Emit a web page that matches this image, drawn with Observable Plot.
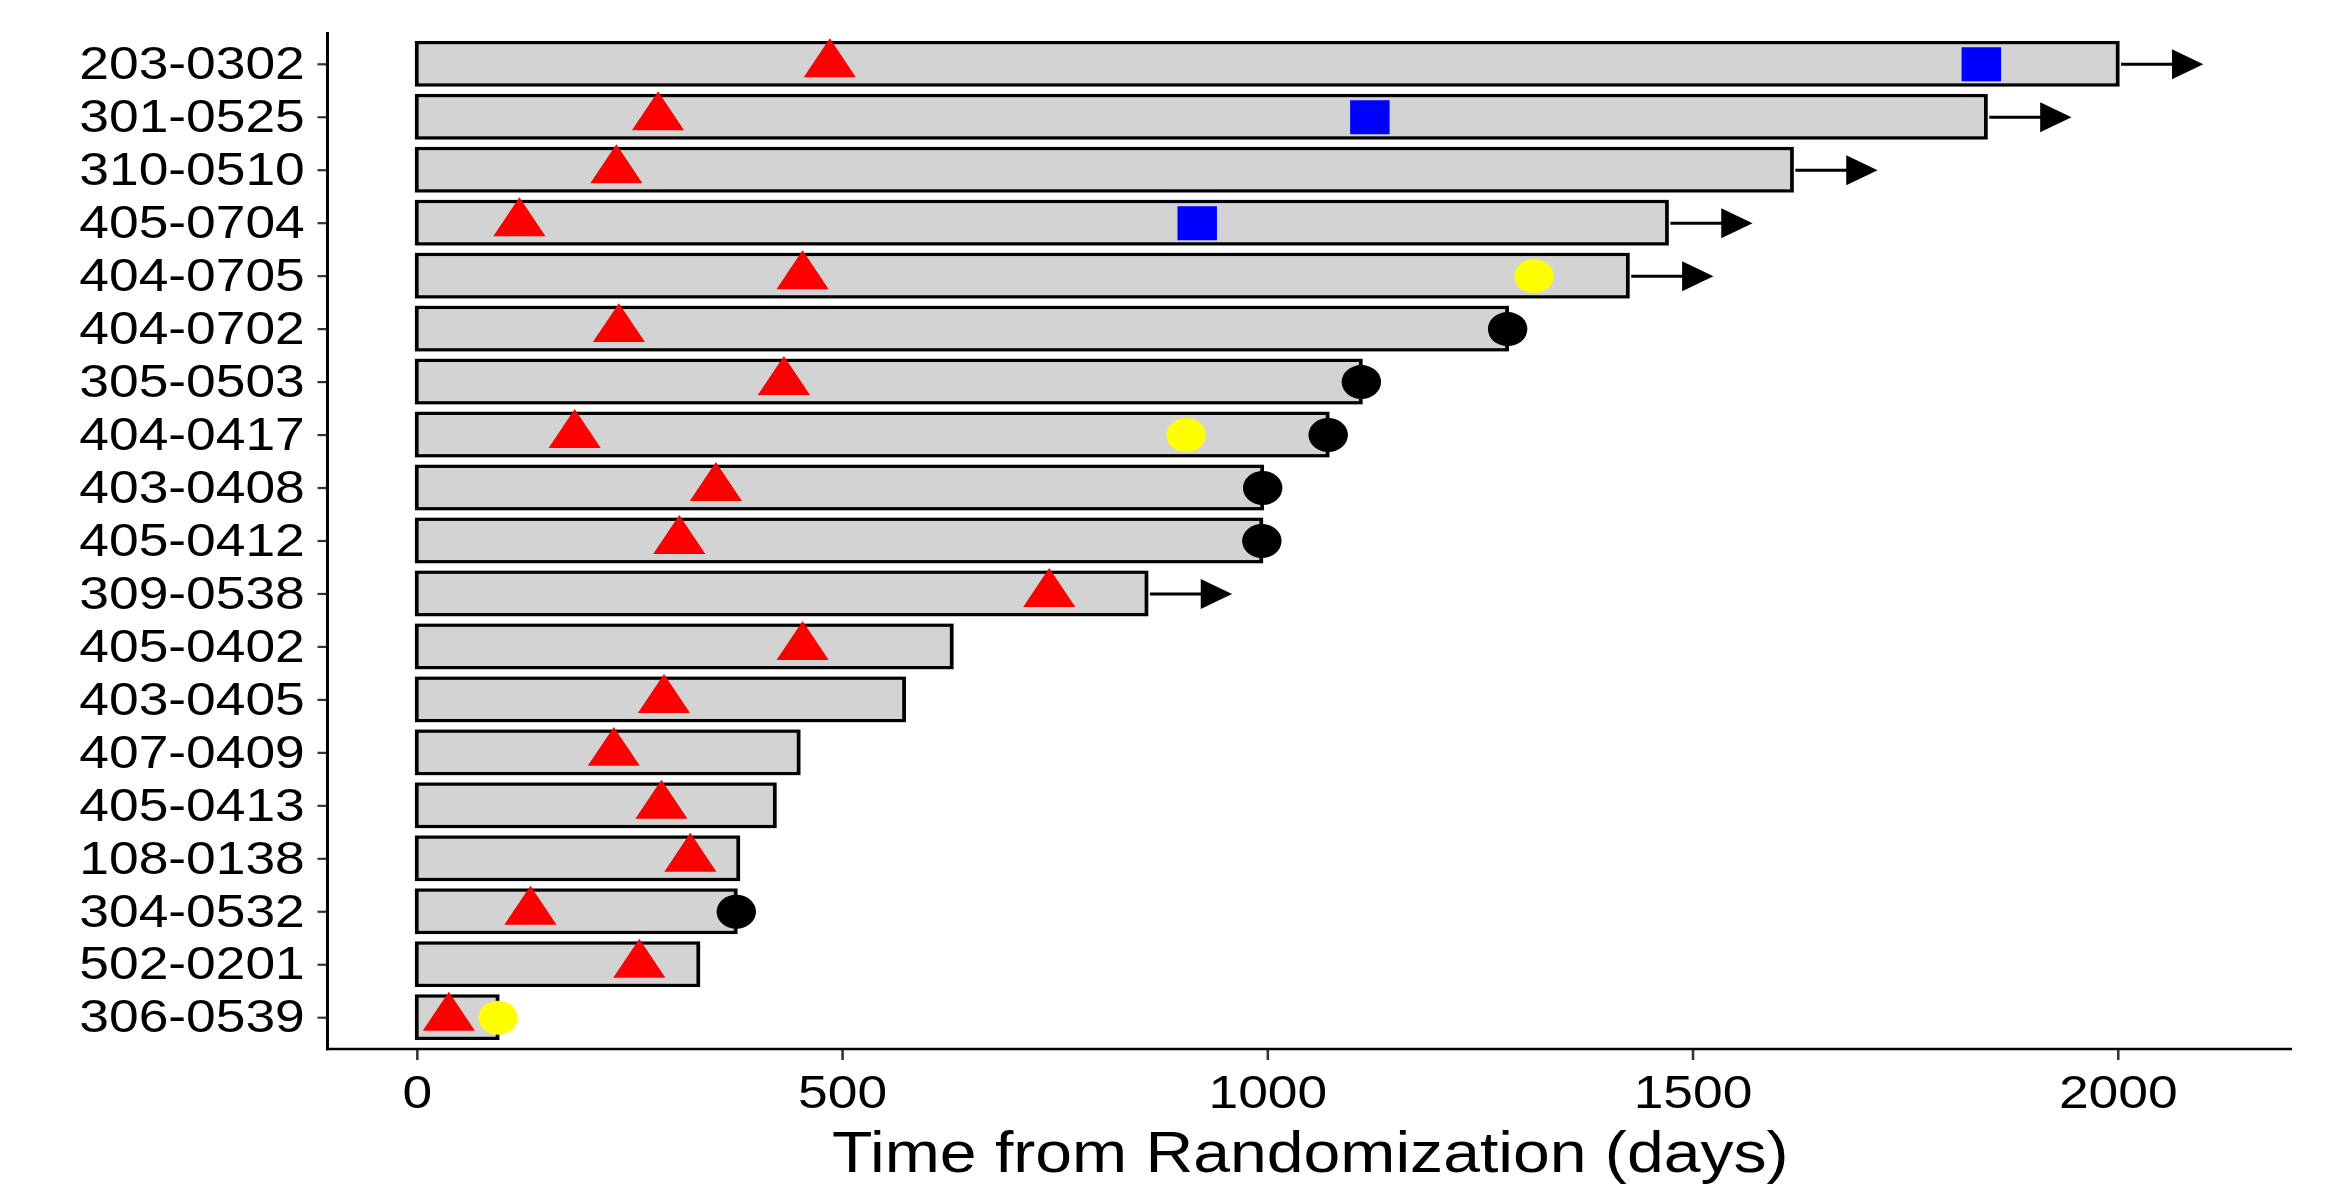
<!DOCTYPE html>
<html>
<head>
<meta charset="utf-8">
<script src="https://cdn.jsdelivr.net/npm/d3@7"></script>
<script src="https://cdn.jsdelivr.net/npm/@observablehq/plot@0.6"></script>
<style>
html, body { margin: 0; padding: 0; background: #fff; overflow: hidden; }
#chart svg { display: block; transform: scaleX(1.16); transform-origin: 0 0; }
</style>
</head>
<body>
<div id="chart"></div>
<script>
// ---- data ----
const ids = ["203-0302","301-0525","310-0510","405-0704","404-0705","404-0702","305-0503","404-0417","403-0408","405-0412","309-0538","405-0402","403-0405","407-0409","405-0413","108-0138","304-0532","502-0201","306-0539"];
const ends = [2000, 1845, 1617, 1470, 1424, 1282, 1110, 1071, 994, 993, 858, 629, 573, 449, 421, 378, 375, 331, 95];
const triangleDays = [485, 283, 234, 120, 453, 237, 431, 185, 351, 308, 743, 453, 290, 231, 287, 321, 133, 261, 37];
const blueIds = ["203-0302", "301-0525", "405-0704"];
const blueDays = [1839, 1120, 917];
const yellowIds = ["404-0705", "404-0417", "306-0539"];
const yellowDays = [1313, 904, 95];
const blackIds = ["404-0702", "305-0503", "404-0417", "403-0408", "405-0412", "304-0532"];
const blackDays = [1282, 1110, 1071, 994, 993, 375];
const arrowIds = ["203-0302", "301-0525", "310-0510", "405-0704", "404-0705", "309-0538"];
const arrowLength = 100;
const xTicks = [0, 500, 1000, 1500, 2000];
const xLabel = "Time from Randomization (days)";

// ---- build tables ----
const bars = ids.map((id, i) => ({id, end: ends[i]}));
const tris = ids.map((id, i) => ({id, day: triangleDays[i]}));
const blues = blueIds.map((id, i) => ({id, day: blueDays[i]}));
const yellows = yellowIds.map((id, i) => ({id, day: yellowDays[i]}));
const blacks = blackIds.map((id, i) => ({id, day: blackDays[i]}));
const arrows = arrowIds.map(id => {
  const e = ends[ids.indexOf(id)];
  return {id, x1: e + 4, x2: e + arrowLength - 20, tip: e + arrowLength};
});

const S = 1.16;               // horizontal stretch of the reference image
const W = 2341 / S, H = 1187;
const font = "'Liberation Sans', Arial, Helvetica, sans-serif";

const headRight = {
  draw(ctx) {
    ctx.moveTo(-27, -15);
    ctx.lineTo(0, 0);
    ctx.lineTo(-27, 15);
    ctx.closePath();
  }
};

function bottomLine(index, scales, values, dims) {
  return d3.create("svg:line")
    .attr("x1", dims.marginLeft - 1.3)
    .attr("x2", dims.width - dims.marginRight)
    .attr("y1", dims.height - dims.marginBottom)
    .attr("y2", dims.height - dims.marginBottom)
    .attr("stroke", "black")
    .attr("stroke-width", 2.6)
    .node();
}
function leftLine(index, scales, values, dims) {
  return d3.create("svg:line")
    .attr("x1", dims.marginLeft)
    .attr("x2", dims.marginLeft)
    .attr("y1", dims.marginTop)
    .attr("y2", dims.height - dims.marginBottom + 1.3)
    .attr("stroke", "black")
    .attr("stroke-width", 2.6)
    .node();
}

const chart = Plot.plot({
  width: W,
  height: H,
  marginLeft: 282.3,
  marginRight: 42.2,
  marginTop: 32,
  marginBottom: 138,
  style: {fontFamily: font, background: "white", overflow: "visible"},
  x: {domain: [-105, 2205]},
  y: {domain: ids, padding: 0.2, round: false},
  marks: [
    Plot.barX(bars, {x1: 0, x2: "end", y: "id", fill: "#d3d3d3", stroke: "black", strokeWidth: 3.2}),
    Plot.ruleY(arrows, {y: "id", x1: "x1", x2: "x2", stroke: "black", strokeWidth: 3}),
    Plot.dot(arrows, {y: "id", x: "tip", symbol: headRight, fill: "black", stroke: "none"}),
    Plot.dot(tris, {y: "id", x: "day", symbol: "triangle", r: 16.7, fill: "#ff0000", stroke: "none"}),
    Plot.dot(blues, {y: "id", x: "day", symbol: "square", r: 19.2, fill: "#0000ff", stroke: "none"}),
    Plot.dot(yellows, {y: "id", x: "day", symbol: "circle", r: 17, fill: "#ffff00", stroke: "none"}),
    Plot.dot(blacks, {y: "id", x: "day", symbol: "circle", r: 17, fill: "black", stroke: "none"}),
    Plot.axisY({tickSize: 8.6, tickPadding: 11.5, fontSize: 46, stroke: "#333", strokeWidth: 2.2, fill: "black", label: null}),
    Plot.axisX({ticks: xTicks, tickFormat: d => String(d), tickSize: 11, tickPadding: 15, fontSize: 46, stroke: "#333", strokeWidth: 2.2, fill: "black", label: null}),
    leftLine,
    bottomLine,
    Plot.text([xLabel], {frameAnchor: "bottom", dy: 104.5, fontSize: 57, fill: "black", textAnchor: "middle", lineAnchor: "middle"})
  ]
});

document.getElementById("chart").appendChild(chart);
</script>
</body>
</html>
